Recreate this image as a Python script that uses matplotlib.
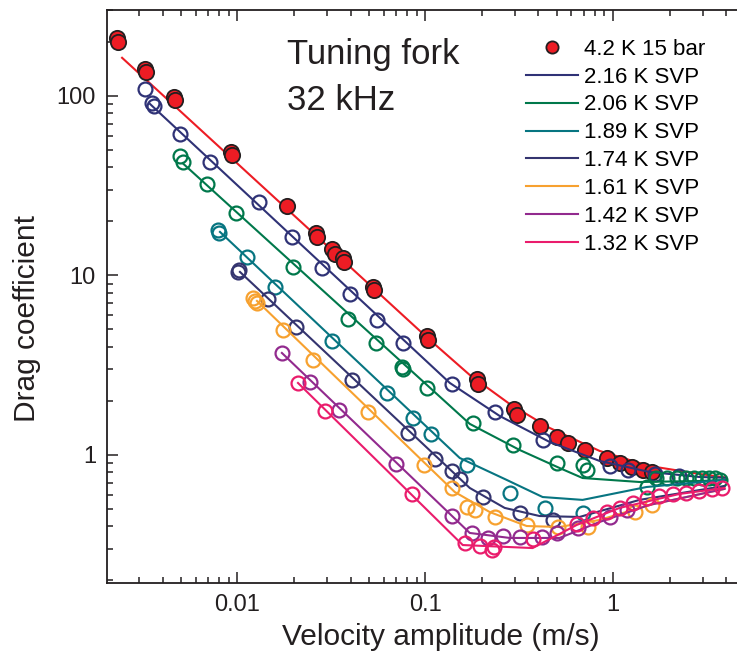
import matplotlib

matplotlib.use("Agg")
import matplotlib.pyplot as plt
from matplotlib.ticker import LogLocator, NullFormatter, FixedFormatter, FixedLocator

plt.rcParams["font.family"] = ["Liberation Sans", "DejaVu Sans"]

# --- data: velocity (m/s), drag coefficient ---
v_42 = [0.00229, 0.00232, 0.00322, 0.00325, 0.00459, 0.00465, 0.00923, 0.00935,
        0.01834, 0.02616, 0.0265, 0.0318, 0.033, 0.0364, 0.0368, 0.0526, 0.0532,
        0.1018, 0.103, 0.188, 0.190, 0.2956, 0.3067, 0.406, 0.5003, 0.573, 0.705,
        0.923, 1.083, 1.254, 1.435, 1.62]
c_42 = [210, 200, 141, 136, 98.7, 95, 48.7, 46.9,
        24.4, 17.3, 16.4, 14.05, 13.2, 12.5, 11.9, 8.63, 8.3,
        4.60, 4.37, 2.65, 2.49, 1.804, 1.67, 1.451, 1.26, 1.166, 1.066,
        0.962, 0.902, 0.857, 0.825, 0.804]
fv_42 = [0.00243, 0.103, 0.1725, 0.2815, 0.4595, 0.848, 1.563, 2.884, 4.0]
fc_42 = [163, 4.48, 2.79, 1.923, 1.414, 1.053, 0.868, 0.784, 0.748]

v_216 = [0.00322, 0.00352, 0.0036, 0.00494, 0.00714, 0.0130, 0.0195, 0.02815,
         0.0397, 0.0552, 0.0759, 0.1383, 0.2343, 0.4217, 0.958, 1.194, 1.663, 2.258]
c_216 = [109, 91.5, 88, 61.4, 42.9, 25.7, 16.3, 11.0,
         7.89, 5.65, 4.21, 2.49, 1.736, 1.212, 0.868, 0.825, 0.784, 0.764]
fv_216 = [0.00342, 0.135, 0.249, 0.4595, 0.848, 1.563, 2.884, 4.0]
fc_216 = [90.2, 2.52, 1.649, 1.181, 0.926, 0.804, 0.754, 0.746]

v_206 = [0.00494, 0.00513, 0.00688, 0.00982, 0.01973, 0.0387, 0.0545, 0.075, 0.0765,
         0.1018, 0.179, 0.292, 0.5003, 0.688, 0.723, 1.507, 1.70, 1.926, 2.177,
         2.46, 2.713, 2.99, 3.26, 3.47, 3.69]
c_206 = [46.3, 42.9, 32.3, 22.3, 11.15, 5.72, 4.21, 3.09, 3.0,
         2.36, 1.507, 1.137, 0.902, 0.880, 0.825, 0.663, 0.744, 0.744, 0.744,
         0.744, 0.744, 0.744, 0.744, 0.744, 0.726]
fv_206 = [0.00513, 0.1725, 0.318, 0.519, 0.688, 1.383, 2.884, 4.0]
fc_206 = [42.0, 1.49, 1.066, 0.846, 0.744, 0.707, 0.716, 0.726]

v_189 = [0.00787, 0.00796, 0.01123, 0.01583, 0.0318, 0.0624, 0.0858, 0.107,
         0.1663, 0.2815, 0.432, 0.688]
c_189 = [17.9, 17.3, 12.68, 8.63, 4.32, 2.215, 1.607, 1.309,
         0.880, 0.614, 0.507, 0.475]
fv_189 = [0.00807, 0.1526, 0.2714, 0.4217, 0.688, 1.507, 3.92]
fc_189 = [17.47, 0.962, 0.726, 0.583, 0.562, 0.663, 0.726]

v_174 = [0.01018, 0.0101, 0.01453, 0.02047, 0.0406, 0.0807, 0.1123, 0.1383,
         0.1526, 0.2022, 0.318, 0.4766]
c_174 = [10.73, 10.46, 7.40, 5.17, 2.617, 1.326, 0.950, 0.815,
         0.735, 0.583, 0.475, 0.4345]
fv_174 = [0.01031, 0.1725, 0.2648, 0.406, 0.663, 1.383, 3.92]
fc_174 = [10.46, 0.655, 0.507, 0.457, 0.4515, 0.562, 0.672]

v_161 = [0.01209, 0.0124, 0.0127, 0.01746, 0.02521, 0.0494, 0.0982, 0.1383,
         0.1663, 0.1834, 0.2343, 0.3467, 0.507, 0.732, 1.301, 1.62]
c_161 = [7.49, 7.25, 7.03, 4.97, 3.38, 1.736, 0.880, 0.655,
         0.513, 0.494, 0.4515, 0.4074, 0.397, 0.397, 0.481, 0.527]
fv_161 = [0.0127, 0.1435, 0.2203, 0.3467, 0.519, 0.848, 1.563, 3.92]
fc_161 = [7.21, 0.622, 0.481, 0.402, 0.397, 0.4345, 0.527, 0.647]

v_142 = [0.01724, 0.0243, 0.0347, 0.0697, 0.1383, 0.1767, 0.215, 0.2584, 0.318,
         0.4167, 0.5003, 0.647, 0.958, 1.18]
c_142 = [3.70, 2.551, 1.781, 0.891, 0.457, 0.3678, 0.345, 0.3537, 0.349,
         0.349, 0.3678, 0.392, 0.4515, 0.494]
fv_142 = [0.01724, 0.1725, 0.2815, 0.519, 0.848, 1.563, 3.92]
fc_142 = [3.70, 0.3678, 0.345, 0.345, 0.4234, 0.527, 0.647]

v_132 = [0.021, 0.0292, 0.0847, 0.1622, 0.195, 0.2258, 0.2333, 0.373, 0.64, 0.778,
         0.923, 1.083, 1.27, 1.507, 1.767, 2.073, 2.46, 2.884, 3.38, 3.82]
c_132 = [2.518, 1.758, 0.6065, 0.3235, 0.311, 0.2956, 0.3077, 0.3404, 0.4127, 0.4457,
         0.481, 0.507, 0.540, 0.576, 0.591, 0.6065, 0.614, 0.630, 0.647, 0.655]
fv_132 = [0.021, 0.1583, 0.373, 0.64, 1.083, 2.258, 3.92]
fc_132 = [2.518, 0.315, 0.303, 0.4074, 0.507, 0.6065, 0.655]

series = [
    ("2.16 K SVP", v_216, c_216, fv_216, fc_216, "#2f3276"),
    ("2.06 K SVP", v_206, c_206, fv_206, fc_206, "#00784b"),
    ("1.89 K SVP", v_189, c_189, fv_189, fc_189, "#077581"),
    ("1.74 K SVP", v_174, c_174, fv_174, fc_174, "#34346f"),
    ("1.61 K SVP", v_161, c_161, fv_161, fc_161, "#f7a12f"),
    ("1.42 K SVP", v_142, c_142, fv_142, fc_142, "#922a8e"),
    ("1.32 K SVP", v_132, c_132, fv_132, fc_132, "#ea1c6c"),
]

fig = plt.figure(figsize=(7.37, 6.56), dpi=100)
ax = fig.add_axes([0.1452, 0.1113, 0.8548, 0.8735])

ax.plot(fv_42, fc_42, "-", color="#ed1c24", lw=1.5, zorder=2)
ax.plot(v_42, c_42, "o", ms=11, mfc="#ed1c24", mec="#231f20", mew=1.3,
        ls="none", zorder=3, label="4.2 K 15 bar")

for i, (lab, v, c, fv, fc, col) in enumerate(series):
    ax.plot(fv, fc, "-", color=col, lw=1.5, label=lab, zorder=4 + i)
    ax.plot(v, c, "o", ms=10, mfc="none", mec=col, mew=1.6, ls="none", zorder=4 + i)

ax.set_xscale("log")
ax.set_yscale("log")
ax.set_xlim(0.00202, 4.57)
ax.set_ylim(0.1936, 301)

ax.xaxis.set_major_locator(FixedLocator([0.01, 0.1, 1]))
ax.xaxis.set_major_formatter(FixedFormatter(["0.01", "0.1", "1"]))
ax.xaxis.set_minor_locator(LogLocator(base=10, subs=range(2, 10)))
ax.xaxis.set_minor_formatter(NullFormatter())
ax.yaxis.set_major_locator(FixedLocator([1, 10, 100]))
ax.yaxis.set_major_formatter(FixedFormatter(["1", "10", "100"]))
ax.yaxis.set_minor_locator(LogLocator(base=10, subs=range(2, 10)))
ax.yaxis.set_minor_formatter(NullFormatter())

ax.tick_params(which="both", direction="in", top=True, right=False,
               color="#231f20", width=1.1, labelsize=17, labelcolor="#231f20")
ax.tick_params(which="major", length=8, pad=8)
ax.tick_params(which="minor", length=4)
ax.spines["right"].set_visible(False)
for s in ("left", "bottom", "top"):
    ax.spines[s].set_linewidth(1.3)
    ax.spines[s].set_color("#231f20")

fig.text(27 / 737, 0.515, "Drag coefficient", rotation=90, ha="center",
         va="center", fontsize=21.5, color="#231f20")
fig.text(441 / 737, 0.029, "Velocity amplitude (m/s)", ha="center",
         va="center", fontsize=21.5, color="#231f20")

fig.text(287 / 737, 0.9024, "Tuning fork", fontsize=25, color="#231f20")
fig.text(287 / 737, 0.8323, "32 kHz", fontsize=25, color="#231f20")

ax.legend(loc="upper left", bbox_to_anchor=(526 / 737, 0.941),
          bbox_transform=fig.transFigure, frameon=False, fontsize=16,
          borderpad=0, borderaxespad=0, handlelength=2.35, handletextpad=0.25,
          labelspacing=0.31, numpoints=1, markerscale=0.8)

fig.savefig("out.png", dpi=100)
